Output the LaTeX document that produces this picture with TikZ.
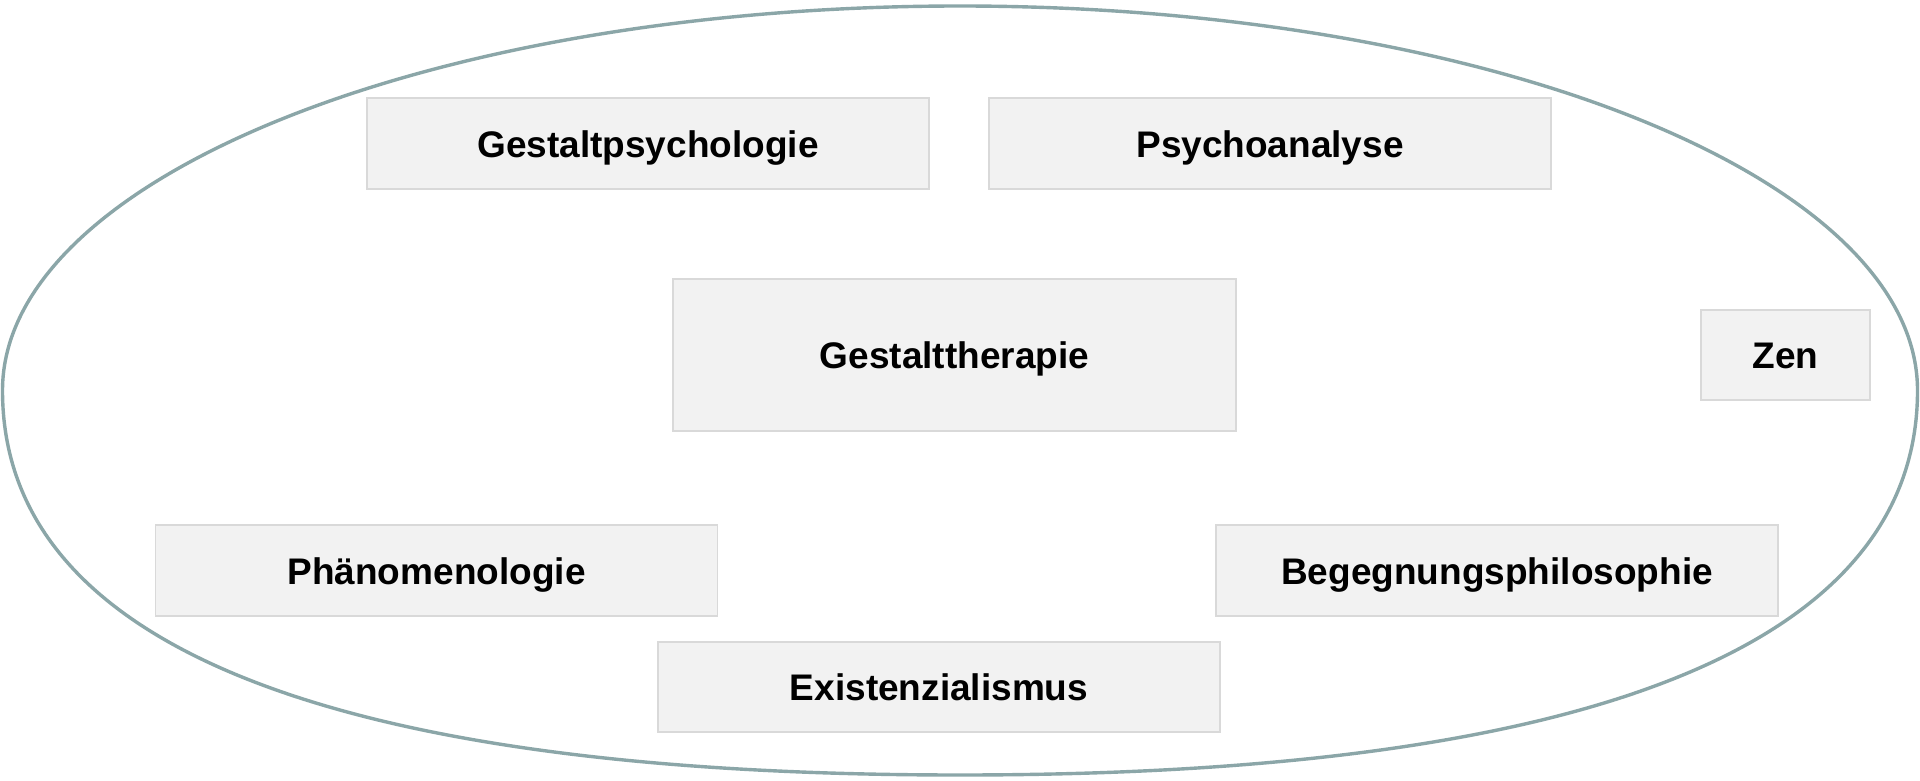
\documentclass[tikz,border=0pt]{standalone}
\usepackage{fontspec}
\setmainfont{Liberation Sans}
\definecolor{ringc}{RGB}{139,166,168}
\definecolor{boxfill}{RGB}{242,242,242}
\definecolor{boxline}{RGB}{217,217,217}
\begin{document}
\begin{tikzpicture}[x=1pt,y=-1pt,
  ringline/.style={draw=ringc, line width=3.4pt},
  topic/.style={draw=boxline, line width=1.5pt, fill=boxfill, minimum width=562pt, minimum height=91pt,
    inner sep=0pt, text height=27.6pt, text depth=0pt,
    font=\fontsize{37}{44}\selectfont\bfseries, text=black, anchor=center}]
\useasboundingbox (0,0) rectangle (1920,781);
\fill[white] (0,0) rectangle (1920,781);
\coordinate (L) at (2.5,390.5);
\coordinate (T) at (960,6);
\coordinate (R) at (1917.5,390.5);
\coordinate (B) at (960,775);
\draw[ringline] (L) .. controls (2.5,178.1) and (431.2,6) .. (T)
  .. controls (1488.8,6) and (1917.5,178.1) .. (R)
  .. controls (1917.5,644.3) and (1592,775) .. (B)
  .. controls (328,775) and (2.5,644.3) .. (L) -- cycle;
\node[topic] (gp) at (648,143.5) {Gestaltpsychologie};
\node[topic] (pa) at (1270,143.5) {Psychoanalyse};
\node[topic, minimum width=563pt, minimum height=152pt] (gt) at (954.5,355) {Gestalttherapie};
\node[topic, minimum width=169pt, minimum height=90pt] (zen) at (1785.5,355) {Zen};
\node[topic] (ph) at (436.5,570.5) {Phänomenologie};
\node[topic] (bp) at (1497,570.5) {Begegnungsphilosophie};
\node[topic, minimum height=90pt] (ex) at (939,687) {Existenzialismus};
\end{tikzpicture}
\end{document}
